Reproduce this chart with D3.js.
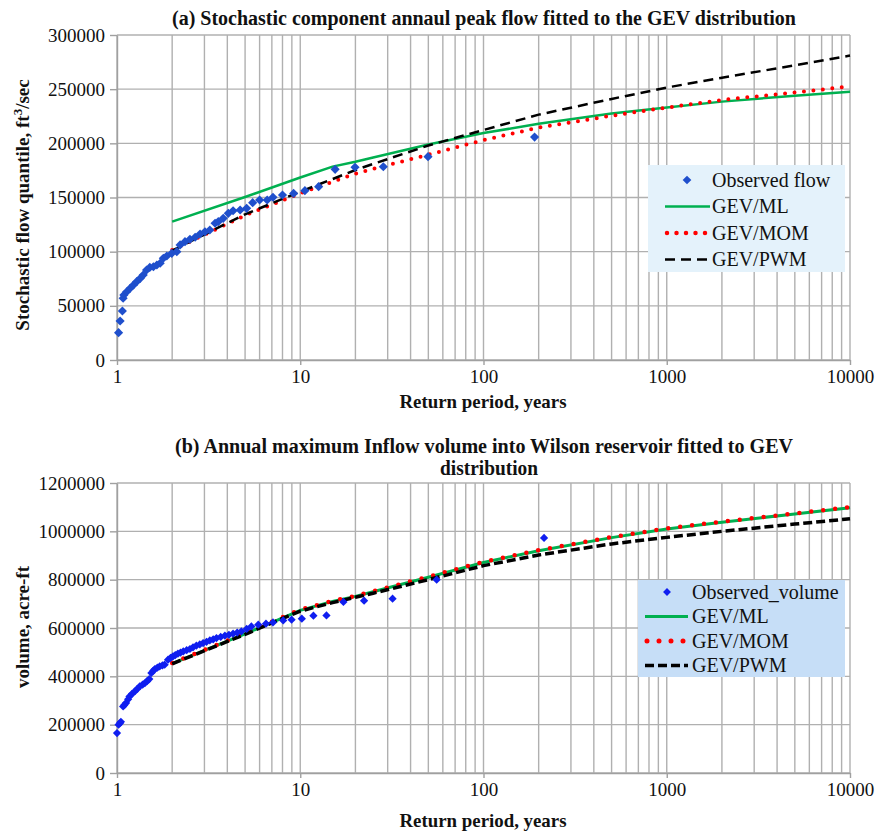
<!DOCTYPE html>
<html>
<head>
<meta charset="utf-8">
<script src="https://cdn.jsdelivr.net/npm/d3@7"></script>
<style>
  body { margin: 0; background: #fff; }
  svg, svg text { font-family: "Liberation Serif", "Times New Roman", serif !important; }
  .grid line { stroke: #b0b0b0; stroke-width: 1.4; }
  .axis path, .axis line { stroke: #a0a0a0; stroke-width: 1.4; }
  .axis text { font-size: 19px; fill: #111; }
</style>
</head>
<body>
<div id="chart"></div>
<script>
// return periods used for the fitted curves (both panels)
var fitT = [2, 5, 10, 15, 20, 25, 50, 100, 200, 500, 1000, 2000, 5000, 10000];

// (a) fitted stochastic peak flow, ft3/sec
var flowML  = [127700, 150500, 168500, 178500, 183000, 187000, 199000, 209500, 218000, 227500, 233000, 238500, 244000, 247700];
var flowMOM = [101500, 133500, 153800, 164500, 172000, 176500, 189500, 203000, 214500, 225500, 233000, 240000, 247000, 252500];
var flowPWM = [101000, 134500, 155400, 167000, 175400, 181000, 198000, 212300, 226500, 241000, 251500, 260600, 272000, 281000];

// (a) observed flow
var obsFlowT = [1.02, 1.04, 1.07, 1.08, 1.09, 1.13, 1.18, 1.23, 1.28, 1.34, 1.39, 1.45, 1.51, 1.58, 1.65, 1.72,
                1.79, 1.87, 1.99, 2.12, 2.21, 2.35, 2.5, 2.67, 2.84, 3.02, 3.21, 3.43, 3.57, 3.8, 4.05, 4.3,
                4.7, 5.1, 5.5, 6.0, 6.6, 7.1, 8.0, 9.2, 10.6, 12.6, 15.5, 19.9, 28.4, 49.8, 190];
var obsFlowQ = [25200, 36000, 45200, 57000, 60000, 63000, 66200, 69200, 72300, 75400, 78500, 83100, 85500, 86100, 87700, 89300,
                93900, 96000, 98500, 100000, 106200, 109200, 111400, 113300, 116300, 118400, 120000, 126200, 127700, 130800, 135400, 137800,
                138500, 140000, 145200, 147700, 147700, 150200, 152300, 153800, 156300, 160000, 176000, 177900, 178400, 187700, 205800];

// (b) fitted annual maximum inflow volume, acre-ft
var volML  = [453000, 576000, 673000, 710000, 731000, 750000, 810000, 871000, 920000, 974000, 1010000, 1038000, 1072000, 1098000];
var volMOM = [455000, 578000, 676000, 712000, 733000, 752000, 812000, 874000, 922000, 976000, 1012000, 1040000, 1074000, 1100000];
var volPWM = [452000, 574000, 670000, 705000, 727000, 744000, 800000, 858000, 902000, 948000, 975000, 1000000, 1030000, 1052000];

// (b) observed volume
var obsVolT = [1.0, 1.02, 1.04, 1.05, 1.08, 1.10, 1.12, 1.15, 1.17, 1.21, 1.25, 1.29, 1.33, 1.38, 1.42, 1.46,
               1.50, 1.54, 1.58, 1.61, 1.66, 1.71, 1.77, 1.82, 1.90, 1.96, 2.02, 2.08, 2.15, 2.22, 2.30, 2.40,
               2.50, 2.60, 2.71, 2.83, 2.95, 3.08, 3.21, 3.35, 3.49, 3.68, 3.88, 4.08, 4.30, 4.53, 4.77, 5.1,
               5.41, 5.90, 6.5, 7.1, 8.07, 8.97, 10.2, 11.8, 13.9, 17.2, 22.3, 31.9, 55.5, 214];
var obsVolQ = [165500, 200000, 206900, 212000, 275600, 282000, 289700, 305000, 317000, 328000, 337700, 348000, 358400, 366000, 372400, 380000,
               388900, 413800, 424000, 430300, 436000, 441100, 445000, 448100, 468800, 476000, 482500, 488000, 493700, 498000, 503200, 508000,
               513100, 520000, 526800, 532000, 537900, 543000, 548600, 553000, 558600, 563000, 568100, 572000, 576400, 581000, 585900, 596000,
               606600, 613700, 618000, 623200, 631500, 634300, 638500, 650900, 652200, 707600, 713000, 721300, 800000, 972500];

var xTicks = [1, 10, 100, 1000, 10000];
var flowTicks = [0, 50000, 100000, 150000, 200000, 250000, 300000];
var volTicks = [0, 200000, 400000, 600000, 800000, 1000000, 1200000];

var FONT = '"Liberation Serif", "Times New Roman", serif';
var width = 878, height = 832;
var svg = d3.select('#chart').append('svg')
    .attr('width', width)
    .attr('height', height)
    .attr('font-family', FONT);

function drawPanel(opt) {
    var x = d3.scaleLog().domain([1, 10000]).range([117, 850]);
    var y = d3.scaleLinear().domain([0, opt.yMax]).range([opt.bottom, opt.top]);
    var g = svg.append('g');

    // grid
    var grid = g.append('g').attr('class', 'grid');
    grid.selectAll('.v').data(x.ticks()).enter().append('line')
        .attr('x1', d => x(d)).attr('x2', d => x(d))
        .attr('y1', opt.top).attr('y2', opt.bottom);
    grid.selectAll('.h').data(opt.yTicks).enter().append('line')
        .attr('x1', x(1)).attr('x2', x(10000))
        .attr('y1', d => y(d)).attr('y2', d => y(d));

    // axes
    var xa = g.append('g').attr('class', 'axis')
        .attr('transform', 'translate(0,' + opt.bottom + ')')
        .call(d3.axisBottom(x).tickValues(xTicks).tickFormat(d3.format('d')).tickSizeInner(5).tickSizeOuter(0).tickPadding(5));
    var ya = g.append('g').attr('class', 'axis')
        .attr('transform', 'translate(' + x(1) + ',0)')
        .call(d3.axisLeft(y).tickValues(opt.yTicks).tickFormat(d3.format('d')).tickSizeInner(7).tickSizeOuter(0).tickPadding(5));
    xa.attr('font-family', FONT).attr('font-size', 19);
    ya.attr('font-family', FONT).attr('font-size', 19);

    // fitted curves
    var line = d3.line().x(d => x(d[0])).y(d => y(d[1]));
    var st = opt.styles;
    g.append('path').datum(d3.zip(fitT, opt.ml))
        .attr('d', line).attr('fill', 'none')
        .attr('stroke', '#00b050').attr('stroke-width', st.mlW);
    g.append('path').datum(d3.zip(fitT, opt.mom))
        .attr('d', line).attr('fill', 'none')
        .attr('stroke', '#ff0000').attr('stroke-width', st.momW)
        .attr('stroke-linecap', 'round').attr('stroke-dasharray', st.momDash);
    g.append('path').datum(d3.zip(fitT, opt.pwm))
        .attr('d', line).attr('fill', 'none')
        .attr('stroke', '#000').attr('stroke-width', st.pwmW)
        .attr('stroke-dasharray', st.pwmDash);

    // observed points
    var diamond = d3.symbol().type(d3.symbolSquare).size(st.markSize);
    g.selectAll('.obs').data(d3.zip(opt.obsT, opt.obsQ)).enter().append('path')
        .attr('d', diamond)
        .attr('transform', d => 'translate(' + x(d[0]) + ',' + y(d[1]) + ') rotate(45)')
        .attr('fill', st.markColor);

    // legend
    var L = opt.legend;
    var lg = g.append('g').attr('transform', 'translate(' + L.x + ',' + L.y + ')');
    lg.append('rect').attr('width', L.w).attr('height', L.h).attr('fill', L.bg);
    var names = [opt.obsName, 'GEV/ML', 'GEV/MOM', 'GEV/PWM'];
    names.forEach(function(name, i) {
        var cy = L.row0 + i * L.step;
        if (i === 0) {
            lg.append('path').attr('d', d3.symbol().type(d3.symbolSquare).size(st.markSize * 0.9))
                .attr('transform', 'translate(' + L.markX + ',' + cy + ') rotate(45)')
                .attr('fill', st.markColor);
        } else {
            var ln = lg.append('line').attr('x1', L.lineX0).attr('x2', L.lineX1)
                .attr('y1', cy).attr('y2', cy).attr('fill', 'none');
            if (i === 1) ln.attr('stroke', '#00b050').attr('stroke-width', st.mlW);
            if (i === 2) ln.attr('stroke', '#ff0000').attr('stroke-width', st.momW + 0.5)
                .attr('stroke-linecap', 'round').attr('stroke-dasharray', st.momDash).attr('x1', L.lineX0 + 2);
            if (i === 3) ln.attr('stroke', '#000').attr('stroke-width', st.pwmW).attr('stroke-dasharray', st.pwmDash);
        }
        lg.append('text').attr('x', L.textX).attr('y', cy).attr('dy', '0.33em')
            .attr('font-family', FONT).attr('font-size', 20).attr('fill', '#111').text(name);
    });
}

drawPanel({
    top: 35, bottom: 360, yMax: 300000, yTicks: flowTicks,
    ml: flowML, mom: flowMOM, pwm: flowPWM,
    obsT: obsFlowT, obsQ: obsFlowQ, obsName: 'Observed flow',
    styles: { mlW: 2.5, momW: 4, momDash: '0 9.5', pwmW: 2.5, pwmDash: '10 6', markSize: 42, markColor: '#1f4fcc' },
    legend: { x: 648, y: 165, w: 197, h: 107, bg: '#e4f2fb', row0: 15, step: 26.5, markX: 39, lineX0: 17, lineX1: 62, textX: 64 }
});

drawPanel({
    top: 483, bottom: 773, yMax: 1200000, yTicks: volTicks,
    ml: volML, mom: volMOM, pwm: volPWM,
    obsT: obsVolT, obsQ: obsVolQ, obsName: 'Observed_volume',
    styles: { mlW: 3, momW: 4.5, momDash: '0 12', pwmW: 3.5, pwmDash: '9 4', markSize: 34, markColor: '#0f1ef0' },
    legend: { x: 638, y: 580, w: 207, h: 97, bg: '#c6def7', row0: 12, step: 24.5, markX: 29, lineX0: 7, lineX1: 50, textX: 54 }
});

// titles
function boldText(x, y, str, len, size) {
    return svg.append('text').attr('x', x).attr('y', y)
        .attr('text-anchor', 'middle')
        .attr('font-family', FONT).attr('font-weight', 'bold').attr('font-size', size)
        .attr('textLength', len).attr('lengthAdjust', 'spacingAndGlyphs')
        .attr('fill', '#111').text(str);
}
boldText(484, 25, '(a) Stochastic component annaul peak flow fitted to the GEV distribution', 624, 20);
boldText(484, 453, '(b) Annual maximum Inflow volume into Wilson reservoir fitted to GEV', 618, 20);
boldText(489, 475, 'distribution', 98, 20);
boldText(483, 408, 'Return period, years', 167, 19);
boldText(483, 827, 'Return period, years', 167, 19);

// y axis titles
var yt1 = svg.append('text')
    .attr('transform', 'translate(29,205) rotate(-90)')
    .attr('text-anchor', 'middle')
    .attr('font-family', FONT).attr('font-weight', 'bold').attr('font-size', 19).attr('fill', '#111');
yt1.append('tspan').text('Stochastic flow  quantile, ft');
yt1.append('tspan').attr('dy', -7).attr('font-size', 13).text('3');
yt1.append('tspan').attr('dy', 7).text('/sec');

svg.append('text')
    .attr('transform', 'translate(29,627) rotate(-90)')
    .attr('text-anchor', 'middle')
    .attr('font-family', FONT).attr('font-weight', 'bold').attr('font-size', 19)
    .attr('fill', '#111').text('volume, acre-ft');
</script>
</body>
</html>
